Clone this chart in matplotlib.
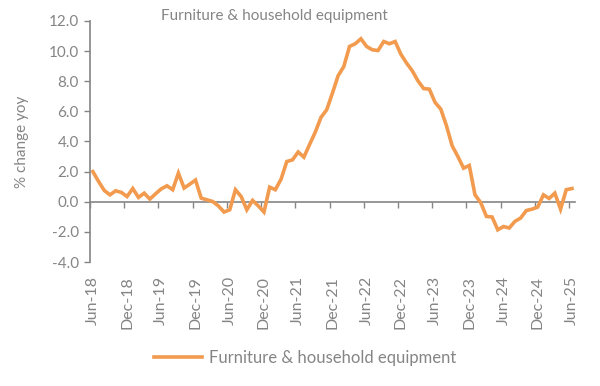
import numpy as np
import matplotlib
matplotlib.use("Agg")
import matplotlib.pyplot as plt

# monthly yoy % change, Jun-18 .. Jun-25
values = [
    2.0, 1.35, 0.75, 0.46, 0.73, 0.62, 0.35, 0.88, 0.29, 0.57, 0.18, 0.53,
    0.86, 1.06, 0.80, 1.90, 0.91, 1.17, 1.44, 0.24, 0.13, 0.02, -0.27, -0.68,
    -0.53, 0.80, 0.35, -0.53, 0.09, -0.27, -0.68, 0.97, 0.80, 1.50, 2.67, 2.78,
    3.30, 2.96, 3.80, 4.62, 5.60, 6.10, 7.20, 8.36, 8.97, 10.30, 10.48, 10.81,
    10.30, 10.08, 10.03, 10.63, 10.48, 10.63, 9.79, 9.20, 8.69, 8.02, 7.51, 7.47,
    6.59, 6.15, 5.04, 3.71, 3.00, 2.23, 2.41, 0.46, -0.05, -0.97, -1.01, -1.86,
    -1.64, -1.74, -1.30, -1.08, -0.58, -0.49, -0.35, 0.46, 0.22, 0.57, -0.49, 0.80,
    0.88,
]
tick_labels = ["Jun-18", "Dec-18", "Jun-19", "Dec-19", "Jun-20", "Dec-20", "Jun-21",
               "Dec-21", "Jun-22", "Dec-22", "Jun-23", "Dec-23", "Jun-24", "Dec-24", "Jun-25"]
series_name = "Furniture & household equipment"

gray = "#858585"
orange = "#F29A4E"
plt.rcParams['font.family'] = ['Lato', 'DejaVu Sans']

fig = plt.figure(figsize=(6.0, 3.86), dpi=100)
ax = fig.add_axes([0.15, 0.321, 0.808, 0.625])

x = np.arange(len(values))
line, = ax.plot(x, values, color=orange, lw=2.6, solid_joinstyle='miter')

ax.set_xlim(-0.5, len(values) - 0.5)
ax.set_ylim(-4, 12)
ax.set_yticks(np.arange(-4, 12.1, 2))
ax.set_yticklabels(["%.1f" % v for v in np.arange(-4, 12.1, 2)])
ax.tick_params(axis='y', colors=gray, labelsize=11, length=4, width=1, direction='out', pad=4)
ax.set_ylabel("% change yoy", color=gray, fontsize=11, labelpad=14)

for s in ['top', 'right', 'bottom']:
    ax.spines[s].set_visible(False)
ax.spines['left'].set_color(gray)
ax.spines['left'].set_linewidth(1.2)

# category labels at the bottom, no tick marks
ax.set_xticks(x[::6])
ax.set_xticklabels(tick_labels, rotation=90)
ax.tick_params(axis='x', colors=gray, labelsize=11.5, length=0, pad=10)

# axis line with tick marks at zero
sec = ax.secondary_xaxis(0.25)
sec.set_xticks(np.arange(-0.5, len(values), 6))
sec.tick_params(axis='x', length=4, width=1, color=gray, labelbottom=False, direction='out')
sec.spines['bottom'].set_color(gray)
sec.spines['bottom'].set_linewidth(1.2)

fig.text(0.458, 0.958, series_name, color=gray, fontsize=11, ha='center', va='center')

fig.legend([line], [series_name], loc='center', bbox_to_anchor=(0.508, 0.073),
           frameon=False, fontsize=12, labelcolor=gray, handlelength=2.9, handletextpad=0.4)

fig.savefig("out.png", dpi=100)
